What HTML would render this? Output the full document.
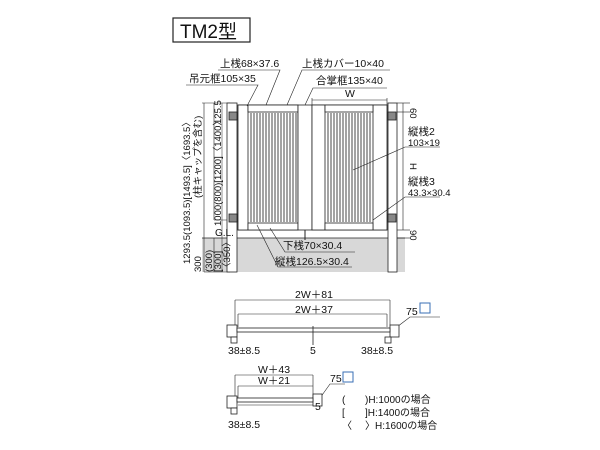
<!DOCTYPE html>
<html><head><meta charset="utf-8"><style>
html,body{margin:0;padding:0;background:#fff}
svg{display:block}
text{font-family:"Liberation Sans","Noto Sans CJK JP",sans-serif;fill:#111}
</style></head><body>
<svg width="600" height="450" viewBox="0 0 600 450" xmlns="http://www.w3.org/2000/svg">
<rect x="173" y="18" width="77" height="24" fill="#fff" stroke="#222" stroke-width="1.2"/>
<text x="180" y="38" font-size="19">TM2型</text>

<rect x="202" y="238" width="203" height="34" fill="#d8d8d8"/>
<line x1="202" y1="238" x2="405" y2="238" stroke="#222" stroke-width="0.8"/>
<line x1="204" y1="103" x2="204" y2="272" stroke="#222" stroke-width="0.6"/>
<line x1="202" y1="103" x2="230" y2="103" stroke="#222" stroke-width="0.6"/>
<line x1="214" y1="103" x2="214" y2="220" stroke="#222" stroke-width="0.6"/>
<line x1="214" y1="220" x2="232" y2="220" stroke="#222" stroke-width="0.6"/>
<line x1="214" y1="238" x2="214" y2="272" stroke="#222" stroke-width="0.6"/>
<line x1="204" y1="272" x2="230" y2="272" stroke="#222" stroke-width="0.6"/>
<line x1="222" y1="103" x2="222" y2="272" stroke="#222" stroke-width="0.5"/>

<g fill="#fff" stroke="#222" stroke-width="0.8">
<rect x="227" y="103" width="10" height="169"/>
<rect x="388" y="103" width="9" height="169"/>
<rect x="238" y="105" width="60" height="125"/>
<rect x="238" y="105" width="10" height="125"/>
<rect x="248" y="105" width="50" height="7"/>
<rect x="248" y="223" width="50" height="7"/>
<rect x="298" y="105" width="14" height="125"/>
<rect x="312" y="105" width="75" height="125"/>
<rect x="312" y="105" width="13" height="125"/>
<rect x="373" y="105" width="14" height="125"/>
<rect x="325" y="105" width="48" height="7"/>
<rect x="325" y="223" width="48" height="7"/>
<rect x="229" y="112" width="8" height="8" fill="#888"/>
<rect x="229" y="214" width="8" height="8" fill="#888"/>
<rect x="388" y="112" width="8" height="8" fill="#888"/>
<rect x="388" y="214" width="8" height="8" fill="#888"/>
</g>
<g stroke="#333" stroke-width="0.9">
<line x1="251" y1="113" x2="251" y2="222"/><line x1="254" y1="113" x2="254" y2="222"/><line x1="257" y1="113" x2="257" y2="222"/><line x1="260" y1="113" x2="260" y2="222"/><line x1="263" y1="113" x2="263" y2="222"/><line x1="266" y1="113" x2="266" y2="222"/><line x1="269" y1="113" x2="269" y2="222"/><line x1="272" y1="113" x2="272" y2="222"/><line x1="275" y1="113" x2="275" y2="222"/><line x1="278" y1="113" x2="278" y2="222"/><line x1="281" y1="113" x2="281" y2="222"/><line x1="284" y1="113" x2="284" y2="222"/><line x1="287" y1="113" x2="287" y2="222"/><line x1="290" y1="113" x2="290" y2="222"/><line x1="293" y1="113" x2="293" y2="222"/><line x1="296" y1="113" x2="296" y2="222"/>
<line x1="328" y1="113" x2="328" y2="222"/><line x1="331" y1="113" x2="331" y2="222"/><line x1="334" y1="113" x2="334" y2="222"/><line x1="337" y1="113" x2="337" y2="222"/><line x1="340" y1="113" x2="340" y2="222"/><line x1="343" y1="113" x2="343" y2="222"/><line x1="346" y1="113" x2="346" y2="222"/><line x1="349" y1="113" x2="349" y2="222"/><line x1="352" y1="113" x2="352" y2="222"/><line x1="355" y1="113" x2="355" y2="222"/><line x1="358" y1="113" x2="358" y2="222"/><line x1="361" y1="113" x2="361" y2="222"/><line x1="364" y1="113" x2="364" y2="222"/><line x1="367" y1="113" x2="367" y2="222"/><line x1="370" y1="113" x2="370" y2="222"/>
</g>
<line x1="305" y1="230" x2="305" y2="240" stroke="#222"/>
<g stroke="#222" stroke-width="0.6" fill="none">
<line x1="312" y1="100" x2="387" y2="100"/><line x1="312" y1="98" x2="312" y2="105"/><line x1="387" y1="98" x2="387" y2="105"/>
<line x1="397" y1="103" x2="410" y2="103"/><line x1="397" y1="112" x2="410" y2="112"/>
<line x1="403" y1="103" x2="403" y2="230"/><line x1="397" y1="230" x2="410" y2="230"/>
<line x1="397" y1="238" x2="410" y2="238"/>
<polyline points="266,105 280,70 218,70"/>
<polyline points="247,106 258,85 186,85"/>
<polyline points="287,105 302,70 390,70"/>
<polyline points="305,105 313,88 387,88"/>
<polyline points="353,170 405,147 440,147"/>
<polyline points="373,220 405,197 440,197"/>
<polyline points="270,228 285,252 355,252"/>
<polyline points="257,225 278,267 352,267"/>
</g>
<text x="220" y="67" font-size="10.5">上桟68×37.6</text>
<text x="302" y="67" font-size="10.5">上桟カバー10×40</text>
<text x="189" y="82" font-size="10.5">吊元框105×35</text>
<text x="316" y="84" font-size="10.5">合掌框135×40</text>
<text x="345" y="97" font-size="10.5">W</text>
<text x="408" y="135" font-size="10.5">縦桟2</text>
<text x="408" y="146" font-size="9.5">103×19</text>
<text x="408" y="185" font-size="10.5">縦桟3</text>
<text x="408" y="196" font-size="9.5">43.3×30.4</text>
<text x="283" y="249" font-size="10.5">下桟70×30.4</text>
<text x="275" y="265" font-size="10.5">縦桟126.5×30.4</text>
<text x="215" y="236" font-size="10">G.L.</text>
<text font-size="9.5" transform="translate(410,108) rotate(90)">60</text>
<text font-size="9.5" transform="translate(410,230) rotate(90)">90</text>
<text font-size="9.5" transform="translate(410,163) rotate(90)">H</text>
<text font-size="9.5" transform="translate(221,124) rotate(-90)">125.5</text>
<text font-size="9.5" transform="translate(221,226) rotate(-90)">1000(800)[1200]〈1400〉</text>
<text font-size="9.5" transform="translate(190,264) rotate(-90)">1293.5(1093.5)[1493.5]〈1693.5〉</text>
<text font-size="9.5" transform="translate(201,198) rotate(-90)">(柱キャップを含む)</text>
<text font-size="9.5" transform="translate(201,272) rotate(-90)">300</text>
<text font-size="9.5" transform="translate(212,272) rotate(-90)">(300)</text>
<text font-size="9.5" transform="translate(221,272) rotate(-90)">[300]</text>
<text font-size="9.5" transform="translate(230,272) rotate(-90)">〈350〉</text>

<g stroke="#222" stroke-width="0.6" fill="none">
<line x1="235" y1="300" x2="390" y2="300"/><line x1="235" y1="300" x2="235" y2="325"/><line x1="390" y1="300" x2="390" y2="325"/>
<line x1="238" y1="314" x2="387" y2="314"/><line x1="238" y1="314" x2="238" y2="327"/><line x1="387" y1="314" x2="387" y2="327"/>
<polyline points="393,330 410,317 440,317"/>
<polyline points="315,405 330,384 345,384"/>
<line x1="238" y1="405" x2="313" y2="405"/>
<line x1="235" y1="375" x2="313" y2="375"/><line x1="235" y1="375" x2="235" y2="398"/><line x1="313" y1="375" x2="313" y2="398"/>
<line x1="238" y1="386" x2="313" y2="386"/><line x1="238" y1="386" x2="238" y2="398"/>
</g>
<g fill="#fff" stroke="#222" stroke-width="0.8">
<rect x="227" y="325" width="10" height="12"/><rect x="390" y="325" width="9" height="12"/>
<rect x="237" y="328" width="153" height="4"/>
<line x1="313" y1="326" x2="313" y2="345"/>
<rect x="231" y="337" width="6" height="6"/><rect x="385" y="337" width="6" height="6"/>
<rect x="227" y="396" width="10" height="12"/><rect x="313" y="394" width="9" height="12"/>
<rect x="237" y="398" width="76" height="4"/>
<rect x="231" y="408" width="6" height="6"/>
</g>
<rect x="420" y="303" width="10" height="10" fill="#fff" stroke="#3a6fb5"/>
<rect x="343" y="372" width="10" height="10" fill="#fff" stroke="#3a6fb5"/>
<text x="295" y="298" font-size="10.5">2W＋81</text>
<text x="295" y="313" font-size="10.5">2W＋37</text>
<text x="406" y="315" font-size="10.5">75</text>
<text x="228" y="354" font-size="10.5">38±8.5</text>
<text x="310" y="354" font-size="10.5">5</text>
<text x="361" y="354" font-size="10.5">38±8.5</text>
<text x="258" y="373" font-size="10.5">W＋43</text>
<text x="258" y="384" font-size="10.5">W＋21</text>
<text x="330" y="382" font-size="10.5">75</text>
<text x="315" y="410" font-size="10.5">5</text>
<text x="228" y="428" font-size="10.5">38±8.5</text>
<text x="342" y="403" font-size="10">(</text><text x="365" y="403" font-size="10">)H:1000の場合</text>
<text x="342" y="416" font-size="10">[</text><text x="365" y="416" font-size="10">]H:1400の場合</text>
<text x="342" y="429" font-size="10">〈</text><text x="365" y="429" font-size="10">〉H:1600の場合</text>
</svg>
</body></html>
